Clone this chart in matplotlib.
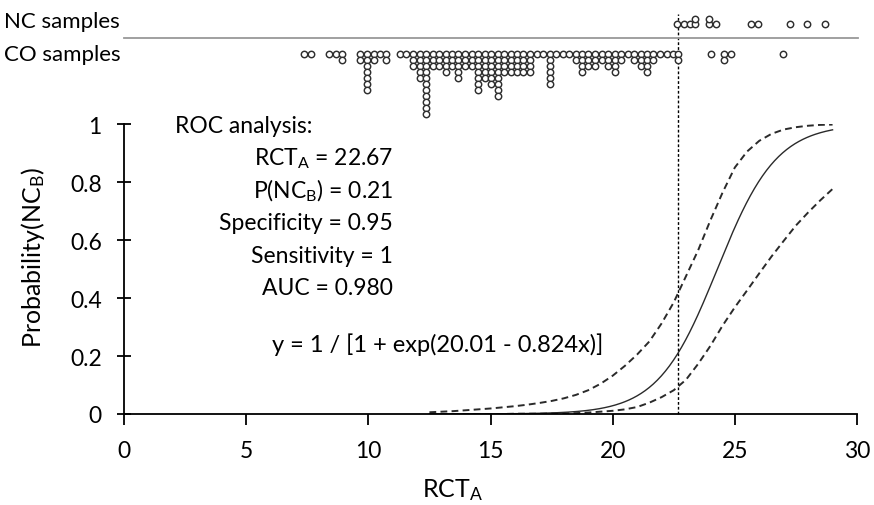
import numpy as np
import matplotlib
matplotlib.use('Agg')
import matplotlib.pyplot as plt
from matplotlib.lines import Line2D

plt.rcParams['font.family'] = ['Lato', 'DejaVu Sans']
plt.rcParams['mathtext.fontset'] = 'custom'
plt.rcParams['mathtext.rm'] = 'Lato'
plt.rcParams['mathtext.it'] = 'Lato:italic'

# logistic model y = 1 / [1 + exp(b0 - b1 x)]
b0 = 20.01
b1 = 0.824
rct_cut = 22.67

# 95% confidence band of the fitted curve
band_rct = [12.5, 13.0, 13.5, 14.0, 14.5, 15.0, 15.5, 16.0, 16.5, 17.0, 17.5,
            18.0, 18.5, 19.0, 19.5, 20.0, 20.5, 21.0, 21.5, 22.0, 22.5, 23.0,
            23.5, 24.0, 24.5, 25.0, 25.5, 26.0, 26.5, 27.0, 27.5, 28.0, 28.5, 29.0]
band_upper = [0.006, 0.008, 0.010, 0.013, 0.016, 0.019, 0.023, 0.027, 0.032,
              0.038, 0.045, 0.054, 0.066, 0.082, 0.104, 0.132, 0.166, 0.205,
              0.250, 0.312, 0.385, 0.475, 0.565, 0.668, 0.764, 0.850, 0.905,
              0.942, 0.966, 0.981, 0.989, 0.994, 0.997, 0.998]
band_lower = [0.000, 0.000, 0.000, 0.000, 0.000, 0.000, 0.000, 0.001, 0.001,
              0.001, 0.002, 0.002, 0.003, 0.005, 0.008, 0.011, 0.016, 0.024,
              0.039, 0.058, 0.082, 0.118, 0.173, 0.235, 0.305, 0.368, 0.426,
              0.485, 0.543, 0.597, 0.650, 0.695, 0.737, 0.776]

# CO samples: dot columns (RCT_A) and number of stacked dots
co_rct = [7.37, 7.65, 8.39, 8.68, 8.92, 9.66, 9.95, 10.23, 10.48, 10.72,
          11.30, 11.56, 11.83, 12.10, 12.36, 12.63, 12.90, 13.16, 13.43, 13.69,
          13.96, 14.23, 14.49, 14.76, 15.02, 15.29, 15.56, 15.82, 16.09, 16.35,
          16.62, 16.89, 17.15, 17.42, 17.68, 17.95, 18.22, 18.48, 18.75, 19.01,
          19.28, 19.55, 19.81, 20.08, 20.34, 20.61, 20.88, 21.14, 21.41, 21.67,
          21.94, 22.21, 22.47, 22.67, 24.03, 24.56, 24.85, 26.98]
co_count = [1, 1, 1, 1, 2, 2, 7, 2, 1, 2,
            1, 1, 3, 5, 11, 3, 3, 4, 3, 5,
            3, 3, 7, 5, 6, 8, 4, 4, 4, 4,
            4, 1, 1, 6, 1, 1, 1, 2, 4, 3,
            3, 2, 3, 4, 2, 1, 2, 3, 4, 2,
            1, 1, 1, 2, 1, 2, 1, 1]

# NC samples
nc_rct = [22.64, 22.92, 23.17, 23.37, 23.94, 24.22, 25.67, 25.95, 27.26, 27.96, 28.69]
nc_count = [1, 1, 1, 2, 2, 1, 1, 1, 1, 1, 1]

fig = plt.figure(figsize=(8.74, 5.06), dpi=100)
W, H = 874, 506
ax = fig.add_axes([124 / W, 91 / H, 733 / W, 290 / H])
ax_dots = fig.add_axes([124 / W, 381 / H, 733 / W, 125 / H])

# main probability panel
xs = np.linspace(12.5, 29, 300)
ys = 1 / (1 + np.exp(b0 - b1 * xs))
ax.plot(xs, ys, color='#2a2a2a', lw=1.0)
ax.plot(band_rct, band_upper, color='#2a2a2a', lw=1.4, dashes=(3.5, 2.2))
ax.plot(band_rct, band_lower, color='#2a2a2a', lw=1.4, dashes=(3.5, 2.2))
ax.axvline(rct_cut, ymin=0, ymax=1.38, color='black', lw=1.0,
           dashes=(2, 1.5), clip_on=False)

ax.set_xlim(0, 30)
ax.set_ylim(0, 1)
ax.set_xticks(range(0, 31, 5))
ax.set_yticks([0, 0.2, 0.4, 0.6, 0.8, 1])
ax.set_yticklabels(['0', '0.2', '0.4', '0.6', '0.8', '1'])
for s in ['top', 'right']:
    ax.spines[s].set_visible(False)
ax.spines['left'].set_linewidth(1.3)
ax.spines['bottom'].set_linewidth(1.3)
ax.tick_params(axis='y', direction='inout', length=10, width=1.3, pad=11, labelsize=16.5)
ax.tick_params(axis='x', direction='out', length=8, width=1.3, pad=11, labelsize=16.5)
ax.set_xlabel(r'RCT$_\mathrm{A}$', fontsize=18)
ax.xaxis.set_label_coords((453 - 124) / 733, -0.214)
ax.set_ylabel(r'Probability(NC$_\mathrm{B}$)', fontsize=18)
ax.yaxis.set_label_coords(-0.105, 0.541)

txt = dict(transform=ax.transAxes, fontsize=16.5, va='baseline')
ax.text(0.0696, 0.972, 'ROC analysis:', ha='left', **txt)
ax.text(0.367, 0.859, r'RCT$_\mathrm{A}$ = %.2f' % rct_cut, ha='right', **txt)
ax.text(0.367, 0.748, r'P(NC$_\mathrm{B}$) = 0.21', ha='right', **txt)
ax.text(0.367, 0.638, 'Specificity = 0.95', ha='right', **txt)
ax.text(0.367, 0.524, 'Sensitivity = 1', ha='right', **txt)
ax.text(0.367, 0.414, 'AUC = 0.980', ha='right', **txt)
ax.text(0.428, 0.217, 'y = 1 / [1 + exp(%.2f - %.3fx)]' % (b0, b1), ha='center',
        **dict(txt, fontsize=17))

# dot strip above the panel
def stack(xv, nv, base, step):
    px, py = [], []
    for x, n in zip(xv, nv):
        for k in range(n):
            px.append(x)
            py.append(base + step * k)
    return px, py

cx, cy = stack(co_rct, co_count, 55, 6)
nx, ny = stack(nc_rct, nc_count, 25, -5)
dot = dict(ls='none', marker='o', ms=4.6, mfc='white', mec='#2e2e2e', mew=1.05)
ax_dots.plot(cx, cy, **dot)
ax_dots.plot(nx, ny, **dot)
ax_dots.set_xlim(0, 30)
ax_dots.set_ylim(125, 0)
ax_dots.axis('off')

fig.add_artist(Line2D([124 / W, 858 / W], [1 - 39 / H] * 2, transform=fig.transFigure,
                      color='#999999', lw=1.3))
fig.text(4 / W, 1 - 22 / H, 'NC samples', fontsize=16, va='center', ha='left')
fig.text(4 / W, 1 - 55 / H, 'CO samples', fontsize=16, va='center', ha='left')

fig.savefig('out.png', dpi=100)
